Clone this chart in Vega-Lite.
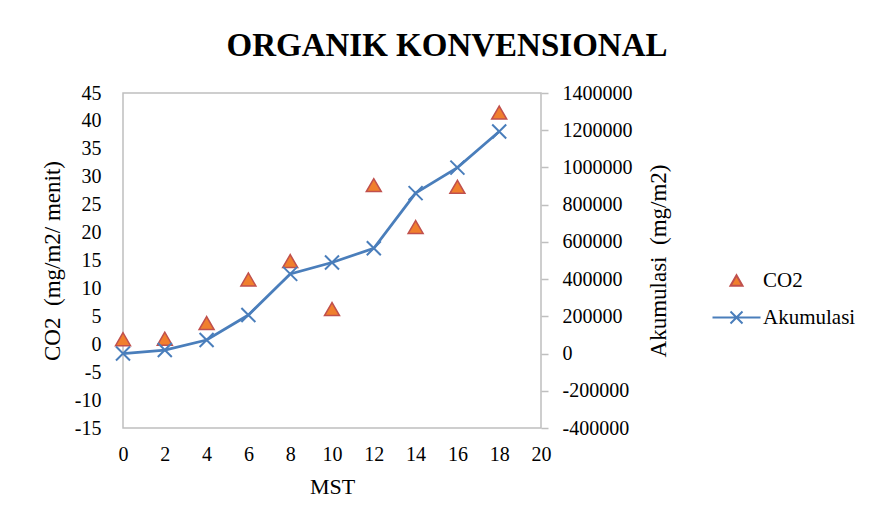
{
  "$schema": "https://vega.github.io/schema/vega-lite/v6.json",
  "width": 418,
  "height": 335,
  "autosize": {"type": "none"},
  "padding": {"left": 123, "top": 93, "right": 334, "bottom": 100},
  "background": "white",
  "title": {"text": "ORGANIK KONVENSIONAL", "font": "Liberation Serif", "fontSize": 33, "fontWeight": "bold", "color": "#000000", "anchor": "middle", "dx": 115, "baseline": "alphabetic", "offset": -6},
  "config": {
    "font": "Liberation Serif",
    "view": {"stroke": "#BFBFBF", "strokeWidth": 1.5},
    "axis": {"grid": false, "domain": false, "labelFlush": false, "labelFont": "Liberation Serif", "titleFont": "Liberation Serif", "labelColor": "#000000", "titleColor": "#000000", "titleFontWeight": "normal", "labelFontSize": 20, "titleFontSize": 22}
  },
  "datasets": {
    "co2": [
      {"MST": 0, "CO2": 0.9, "series": "CO2"},
      {"MST": 2, "CO2": 1.0, "series": "CO2"},
      {"MST": 4, "CO2": 3.8, "series": "CO2"},
      {"MST": 6, "CO2": 11.6, "series": "CO2"},
      {"MST": 8, "CO2": 14.9, "series": "CO2"},
      {"MST": 10, "CO2": 6.3, "series": "CO2"},
      {"MST": 12, "CO2": 28.5, "series": "CO2"},
      {"MST": 14, "CO2": 21.0, "series": "CO2"},
      {"MST": 16, "CO2": 28.2, "series": "CO2"},
      {"MST": 18, "CO2": 41.5, "series": "CO2"}
    ],
    "akum": [
      {"MST": 0, "Akumulasi": 0, "series": "Akumulasi"},
      {"MST": 2, "Akumulasi": 19000, "series": "Akumulasi"},
      {"MST": 4, "Akumulasi": 73000, "series": "Akumulasi"},
      {"MST": 6, "Akumulasi": 207000, "series": "Akumulasi"},
      {"MST": 8, "Akumulasi": 428000, "series": "Akumulasi"},
      {"MST": 10, "Akumulasi": 489000, "series": "Akumulasi"},
      {"MST": 12, "Akumulasi": 566000, "series": "Akumulasi"},
      {"MST": 14, "Akumulasi": 862000, "series": "Akumulasi"},
      {"MST": 16, "Akumulasi": 999000, "series": "Akumulasi"},
      {"MST": 18, "Akumulasi": 1193000, "series": "Akumulasi"}
    ]
  },
  "layer": [
    {
      "data": {"name": "co2"},
      "mark": {"type": "point", "filled": true, "size": 225, "strokeWidth": 1.5, "opacity": 1},
      "encoding": {
        "x": {"field": "MST", "type": "quantitative", "scale": {"domain": [0, 20], "nice": false}, "axis": {"title": "MST", "values": [0, 2, 4, 6, 8, 10, 12, 14, 16, 18, 20], "ticks": false, "tickSize": 0, "labelPadding": 16, "titlePadding": 12}},
        "y": {"field": "CO2", "type": "quantitative", "scale": {"domain": [-15, 45], "nice": false, "zero": false}, "axis": {"orient": "left", "title": "CO2\u00a0\u00a0(mg/m2/ menit)", "titleFontSize": 23, "values": [-15, -10, -5, 0, 5, 10, 15, 20, 25, 30, 35, 40, 45], "labelExpr": "'' + datum.value", "ticks": false, "tickSize": 0, "labelPadding": 22, "titlePadding": 10}},
        "shape": {"field": "series", "type": "nominal", "scale": {"domain": ["CO2", "Akumulasi"], "range": ["triangle-up", "M-4,0H4M-1,-1L1,1M-1,1L1,-1"]}, "legend": {"orient": "none", "legendX": 603, "legendY": 177, "title": null, "symbolSize": 144, "symbolStrokeWidth": 2, "symbolOpacity": 1, "labelFont": "Liberation Serif", "labelFontSize": 21, "labelColor": "#000000", "labelOffset": 16, "rowPadding": 15}},
        "fill": {"field": "series", "type": "nominal", "scale": {"domain": ["CO2", "Akumulasi"], "range": ["#F07F2D", "transparent"]}, "legend": {"orient": "none", "legendX": 603, "legendY": 177, "title": null, "symbolSize": 144, "symbolStrokeWidth": 2, "symbolOpacity": 1, "labelFont": "Liberation Serif", "labelFontSize": 21, "labelColor": "#000000", "labelOffset": 16, "rowPadding": 15}},
        "stroke": {"field": "series", "type": "nominal", "scale": {"domain": ["CO2", "Akumulasi"], "range": ["#C0504D", "#4A7EBB"]}, "legend": {"orient": "none", "legendX": 603, "legendY": 177, "title": null, "symbolSize": 144, "symbolStrokeWidth": 2, "symbolOpacity": 1, "labelFont": "Liberation Serif", "labelFontSize": 21, "labelColor": "#000000", "labelOffset": 16, "rowPadding": 15}}
      }
    },
    {
      "data": {"name": "akum"},
      "encoding": {
        "x": {"field": "MST", "type": "quantitative", "scale": {"domain": [0, 20], "nice": false}, "axis": {"title": "MST", "values": [0, 2, 4, 6, 8, 10, 12, 14, 16, 18, 20], "ticks": false, "tickSize": 0, "labelPadding": 16, "titlePadding": 12}},
        "y": {"field": "Akumulasi", "type": "quantitative", "scale": {"domain": [-400000, 1400000], "nice": false, "zero": false}, "axis": {"orient": "right", "title": "Akumulasi\u00a0\u00a0(mg/m2)", "titleFontSize": 23, "titleAngle": 270, "values": [-400000, -200000, 0, 200000, 400000, 600000, 800000, 1000000, 1200000, 1400000], "labelExpr": "'' + datum.value", "ticks": true, "tickSize": 7, "tickColor": "#BFBFBF", "tickWidth": 1.5, "labelPadding": 14, "titlePadding": 38}}
      },
      "layer": [
        {
          "mark": {"type": "line", "strokeWidth": 2.75},
          "encoding": {
            "stroke": {"field": "series", "type": "nominal"}
          }
        },
        {
          "mark": {"type": "point", "shape": "M-1,-1L1,1M-1,1L1,-1", "size": 196, "filled": false, "stroke": "#4A7EBB", "strokeWidth": 2, "opacity": 1}
        }
      ]
    }
  ],
  "resolve": {"scale": {"y": "independent"}}
}
